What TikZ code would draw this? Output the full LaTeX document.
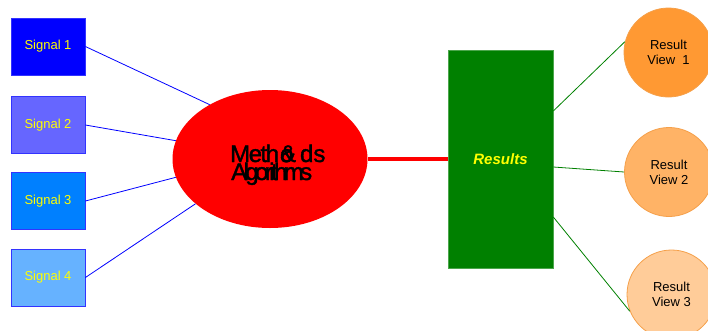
\documentclass[tikz,border=0pt]{standalone}
\usepackage{fontspec}
\setmainfont{Liberation Sans}
\usetikzlibrary{shapes.geometric}
\definecolor{sigA}{HTML}{0000FF}
\definecolor{sigB}{HTML}{6666FF}
\definecolor{sigC}{HTML}{0080FF}
\definecolor{sigD}{HTML}{66B2FF}
\definecolor{sigborder}{HTML}{3333FF}
\definecolor{sigtext}{HTML}{FFFF00}
\definecolor{resgreen}{HTML}{008000}
\definecolor{resborder}{HTML}{4CA64C}
\definecolor{rvA}{HTML}{FF9933}
\definecolor{rvB}{HTML}{FFB366}
\definecolor{rvC}{HTML}{FFCC99}
\definecolor{rvborder}{HTML}{F5A04A}
\begin{document}
\begin{tikzpicture}[x=1pt,y=-1pt,
  sigbox/.style={draw=sigborder, line width=0.8pt, minimum width=74pt, minimum height=57pt, inner sep=0pt,
    text=sigtext, font=\fontsize{13}{15}\selectfont},
  rview/.style={circle, draw=rvborder, line width=0.8pt, minimum size=89pt, inner sep=0pt,
    align=center, font=\fontsize{13}{15}\selectfont},
  bluelink/.style={draw=sigA, line width=0.8pt},
  greenlink/.style={draw=resgreen, line width=0.8pt},
  mtext/.style={inner sep=0pt, anchor=base west, font=\fontsize{24}{18}\selectfont\addfontfeature{FakeBold=1.5}}]
\useasboundingbox (0,0) rectangle (708,330);
\node[sigbox, fill=sigA] (s1) at (48,46.5) {Signal 1};
\node[sigbox, fill=sigB] (s2) at (48,125) {Signal 2};
\node[sigbox, fill=sigC] (s3) at (48,201) {Signal 3};
\node[sigbox, fill=sigD] (s4) at (48,277.5) {Signal 4};
\node[ellipse, fill=red, minimum width=195pt, minimum height=138pt, inner sep=0pt] (meth) at (270,159) {};
\node[mtext] (m1) at (230,162) {M\kern-1.5pt e\kern-1.5pt t\kern-1.5pt h\kern1pt\rlap{o}\kern0pt\&\kern4pt ds};
\node[mtext] (m2) at (231,180) {A\kern-3.6pt l\kern-3.6pt g\kern-3.6pt o\kern-3.6pt r\kern-3.6pt i\kern-3.6pt t\kern-3.6pt h\kern-3.6pt m\kern-3.6pt s};
\node[fill=resgreen, draw=resborder, line width=0.6pt, minimum width=105pt, minimum height=218pt, inner sep=0pt,
  text=sigtext, font=\fontsize{15}{17}\selectfont\bfseries\itshape] (res) at (500.5,159) {Results};
\node[rview, fill=rvA] (rv1) at (668.5,52.5) {Result\\View~~1};
\node[rview, fill=rvB] (rv2) at (669,172) {Result\\View 2};
\node[rview, fill=rvC] (rv3) at (671.5,294.5) {Result\\View 3};
\draw[bluelink] (s1.east) -- (meth.138);
\draw[bluelink] (s2.east) -- (meth.169);
\draw[bluelink] (s3.east) -- (meth.191);
\draw[bluelink] (s4.east) -- (meth.211);
\draw[red, line width=4pt] (meth.east) -- (res.west);
\coordinate (g1) at (res.east |- 0,111);
\coordinate (g2) at (res.east |- 0,167);
\coordinate (g3) at (res.east |- 0,217);
\draw[greenlink] (g1) -- (rv1.166);
\draw[greenlink] (g2) -- (rv2.west);
\draw[greenlink] (g3) -- (rv3.202);
\end{tikzpicture}
\end{document}
